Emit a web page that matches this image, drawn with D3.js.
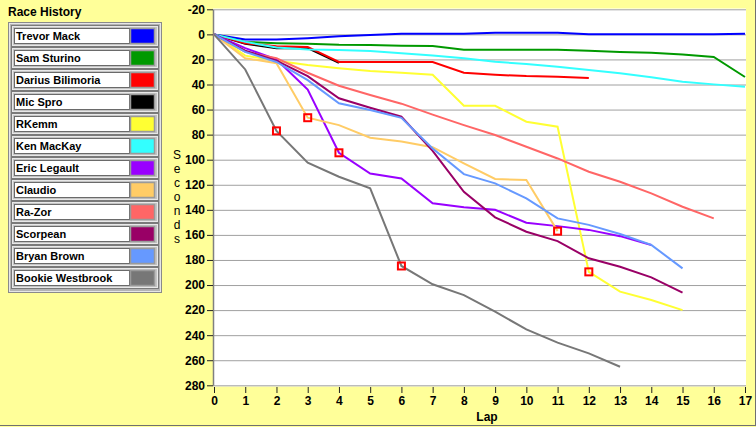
<!DOCTYPE html>
<html>
<head>
<meta charset="utf-8">
<script src="https://cdn.jsdelivr.net/npm/d3@7"></script>
<style>
  body { margin: 0; background: #ffff99; }
  text { font-family: "Liberation Sans", Arial, sans-serif; }
</style>
</head>
<body>
<div id="chart-area"></div>
<script>
// seconds behind the leader, one value per lap (lap 0 first)
var riders = ["Trevor Mack", "Sam Sturino", "Darius Bilimoria", "Mic Spro", "RKemm", "Ken MacKay",
  "Eric Legault", "Claudio", "Ra-Zor", "Scorpean", "Bryan Brown", "Bookie Westbrook"];
var colors = ["#0000ff", "#009900", "#ff0000", "#000000", "#ffff33", "#33ffff",
  "#9900ff", "#ffcc66", "#ff6666", "#990066", "#6699ff", "#777777"];

var trevorMack = [0, 4, 4, 3, 1.5, 0.6, -0.5, -0.5, -0.5, -1.3, -1.3, -1.3, 0, 0, 0, 0, 0, -0.5];
var samSturino = [0, 6, 7, 7.5, 8.3, 8.5, 9, 9.3, 12.3, 12.3, 12.3, 12.3, 13, 14, 14.7, 16, 18, 34];
var dariusBilimoria = [0, 7, 9.5, 10, 22, 22, 22, 22, 30.6, 32.2, 33.3, 33.8, 34.9];
var micSpro = [0, 7.5, 11, 11, 22.8];
var rKemm = [0, 17, 21, 24.5, 27, 29.3, 30.6, 32.2, 57, 57, 69.7, 73.7, 189.5, 205.3, 212, 220];
var kenMacKay = [0, 6, 10.5, 12, 12.5, 13.3, 15, 16.8, 19, 21.8, 23.7, 25.8, 28.5, 31, 34.3, 37.8, 39.9, 41.8];
var ericLegault = [0, 11, 20, 44, 94.5, 111, 115, 134.8, 138, 140, 150.3, 153, 156, 161, 168];
var claudio = [0, 19, 23, 66.5, 72.4, 82.5, 85.5, 90, 103, 115.4, 116.2, 157];
var raZor = [0, 14, 19, 30.6, 41, 48.4, 55.3, 64, 72.4, 80.3, 89.7, 99, 109.6, 117.6, 126.9, 137.5, 146.8];
var scorpean = [0, 13, 21, 33.3, 51, 58.6, 65.7, 93, 125.6, 146, 157.5, 165, 178.7, 185.4, 193.9, 206.1];
var bryanBrown = [0, 14, 22, 36.5, 55, 60.4, 66.6, 91, 111.5, 118.9, 130.8, 146.8, 152, 159.3, 168, 186.7];
var bookieWestbrook = [0, 28, 77, 102.4, 113.6, 122.9, 184.8, 199.4, 208, 221.3, 235.4, 246, 254.5, 265.2];

var series = [trevorMack, samSturino, dariusBilimoria, micSpro, rKemm, kenMacKay,
  ericLegault, claudio, raZor, scorpean, bryanBrown, bookieWestbrook];

// Mic Spro sits under Darius in the picture
var drawOrder = [3, 0, 1, 2, 4, 5, 6, 7, 8, 9, 10, 11];

// pit stop markers: rider index, lap
var pitRider = [11, 7, 6, 11, 7, 4];
var pitLap = [2, 3, 4, 6, 11, 12];

var lapTicks = d3.range(0, 18);
var secondTicks = d3.range(-20, 281, 20);

var width = 756;
var height = 427;
var plot = {left: 213, right: 746, top: 8.5, bottom: 386.5};

var svg = d3.select("#chart-area")
  .append("svg")
    .attr("width", width)
    .attr("height", height)
    .style("display", "block")
    .style("background-color", "#ffff99");

var x = d3.scaleLinear().domain([0, 17]).range([214, 745]);
var y = d3.scaleLinear().domain([-20, 280]).range([9.3, 385.3]);

// plot background
svg.append("rect")
  .attr("x", plot.left)
  .attr("y", plot.top)
  .attr("width", plot.right - plot.left)
  .attr("height", plot.bottom - plot.top)
  .attr("fill", "white");

// grid
svg.append("g")
  .attr("class", "grid")
  .attr("transform", "translate(" + plot.left + ",0)")
  .call(d3.axisLeft(y).tickValues(secondTicks).tickSize(-(plot.right - plot.left)).tickFormat(""))
  .call(function(g) { g.select(".domain").remove(); })
  .selectAll("line")
    .attr("stroke", "#a0a0a0");

// y axis
var yAxis = svg.append("g")
  .attr("transform", "translate(" + plot.left + ",0)")
  .call(d3.axisLeft(y).tickValues(secondTicks).tickSize(6).tickSizeOuter(0).tickPadding(2)
    .tickFormat(function(d) { return String(d); }));
yAxis.select(".domain").attr("stroke", "#808080").attr("stroke-width", 1.5);
yAxis.selectAll(".tick line").attr("stroke", "#222");
yAxis.selectAll("text")
  .attr("fill", "#000")
  .attr("font-size", "12px")
  .attr("font-weight", "bold")
  .attr("font-family", "Liberation Sans, Arial, sans-serif");

// x axis
var xAxis = svg.append("g")
  .attr("transform", "translate(0," + (plot.bottom + 0.5) + ")")
  .call(d3.axisBottom(x).tickValues(lapTicks).tickSize(6).tickSizeOuter(0).tickPadding(3));
xAxis.select(".domain").remove();
xAxis.selectAll(".tick line").attr("stroke", "#222");
xAxis.selectAll("text")
  .attr("fill", "#000")
  .attr("font-size", "12px")
  .attr("font-weight", "bold")
  .attr("font-family", "Liberation Sans, Arial, sans-serif");

svg.append("text")
  .attr("x", 487)
  .attr("y", 420.5)
  .attr("text-anchor", "middle")
  .attr("font-size", "12px")
  .attr("font-weight", "bold")
  .text("Lap");

// vertical stacked axis title
svg.append("g").selectAll("text")
  .data("Seconds".split(""))
  .enter().append("text")
    .attr("x", 177)
    .attr("y", function(d, i) { return 159 + i * 14; })
    .attr("text-anchor", "middle")
    .attr("font-size", "12px")
    .text(function(d) { return d; });

// lines
var line = d3.line()
  .x(function(d, i) { return x(i); })
  .y(function(d) { return y(d); });

svg.append("g").selectAll("path")
  .data(drawOrder)
  .enter().append("path")
    .attr("d", function(k) { return line(series[k]); })
    .attr("fill", "none")
    .attr("stroke", function(k) { return colors[k]; })
    .attr("stroke-width", 2)
    .attr("stroke-linejoin", "miter");

// pit markers
svg.append("g").selectAll("rect")
  .data(pitLap)
  .enter().append("rect")
    .attr("x", function(d) { return x(d) - 3.5; })
    .attr("y", function(d, i) { return y(series[pitRider[i]][d]) - 3.5; })
    .attr("width", 7)
    .attr("height", 7)
    .attr("fill", "none")
    .attr("stroke", "#ff0000")
    .attr("stroke-width", 2);

// legend
svg.append("text")
  .attr("x", 8)
  .attr("y", 15.5)
  .attr("font-size", "12px")
  .attr("font-weight", "bold")
  .text("Race History");

var legend = svg.append("g");
legend.append("rect")
  .attr("x", 8.5).attr("y", 22.5)
  .attr("width", 153).attr("height", 270)
  .attr("fill", "#b4b4b4")
  .attr("stroke", "#8a8a8a")
  .attr("stroke-width", 1);
legend.append("rect")
  .attr("x", 9.5).attr("y", 23.5)
  .attr("width", 151).attr("height", 268)
  .attr("fill", "none")
  .attr("stroke", "#e6e6e6")
  .attr("stroke-width", 1);

var rows = legend.selectAll("g.row")
  .data(riders)
  .enter().append("g")
    .attr("class", "row")
    .attr("transform", function(d, i) { return "translate(0," + (25 + i * 22) + ")"; });

rows.append("rect")
  .attr("x", 11.5).attr("y", 0.5)
  .attr("width", 147).attr("height", 21)
  .attr("fill", "#c4c4c4")
  .attr("stroke", "#7a7a7a");
rows.append("rect")
  .attr("x", 12.5).attr("y", 1.5)
  .attr("width", 145).attr("height", 19)
  .attr("fill", "none")
  .attr("stroke", "#e8e8e8");
rows.append("rect")
  .attr("x", 14.5).attr("y", 3.5)
  .attr("width", 115).attr("height", 15)
  .attr("fill", "white")
  .attr("stroke", "#6a6a6a");
rows.append("rect")
  .attr("x", 130.5).attr("y", 3.5)
  .attr("width", 24).attr("height", 15)
  .attr("fill", function(d, i) { return colors[i]; })
  .attr("stroke", "#9a9a9a")
  .attr("stroke-width", 1.5);
rows.append("text")
  .attr("x", 16)
  .attr("y", 15)
  .attr("font-size", "11px")
  .attr("font-weight", "bold")
  .text(function(d) { return d; });

// panel frame on right and bottom
svg.append("line")
  .attr("x1", 755.5).attr("x2", 755.5).attr("y1", 0).attr("y2", 426)
  .attr("stroke", "#707070");
svg.append("line")
  .attr("x1", 0).attr("x2", 756).attr("y1", 425.5).attr("y2", 425.5)
  .attr("stroke", "#707070");
</script>
</body>
</html>
